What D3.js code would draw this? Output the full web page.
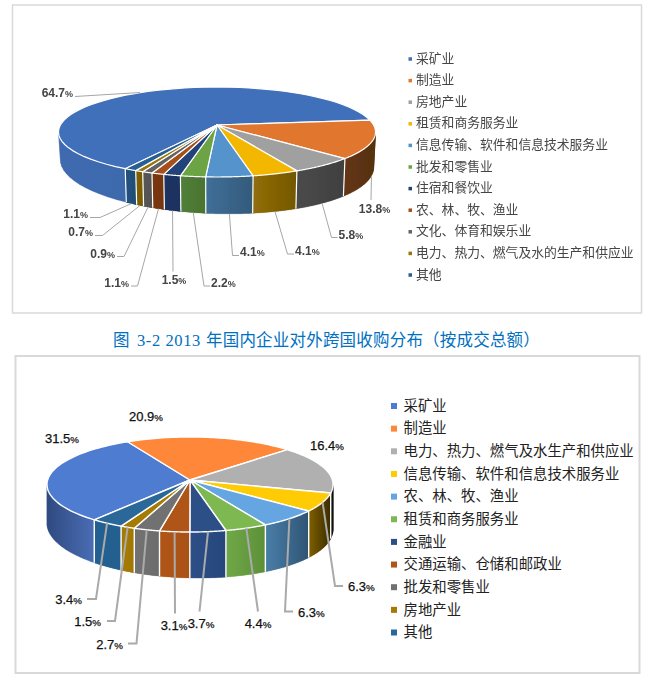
<!DOCTYPE html>
<html><head><meta charset="utf-8">
<script src="https://cdn.jsdelivr.net/npm/d3@7"></script>
<style>html,body{margin:0;padding:0;background:#fff}svg{display:block}</style>
</head><body><svg id="c" width="666" height="678"></svg>
<script>
// ---------- data ----------
const topCategories = ["采矿业","制造业","房地产业","租赁和商务服务业","信息传输、软件和信息技术服务业","批发和零售业","住宿和餐饮业","农、林、牧、渔业","文化、体育和娱乐业","电力、热力、燃气及水的生产和供应业","其他"];
const topValues = [64.7,13.8,5.8,4.1,4.1,2.2,1.5,1.1,0.9,0.7,1.1];
const bottomCategories = ["采矿业","制造业","电力、热力、燃气及水生产和供应业","信息传输、软件和信息技术服务业","农、林、牧、渔业","租赁和商务服务业","金融业","交通运输、仓储和邮政业","批发和零售业","房地产业","其他"];
const bottomValues = [31.5,20.9,16.4,6.3,6.3,4.4,3.7,3.1,2.7,1.5,3.4];
const captionCn1 = "图", captionNum = "3-2 2013", captionCn2 = "年国内企业对外跨国收购分布（按成交总额）";

// ---------- styles ----------
const topFace = ["#416fb9","#e1762f","#a0a0a0","#f3b700","#5593cc","#6ca444","#24427a","#a5501a","#636363","#99740a","#255e91"];
const topWall = [["#3f6ab0","#3e69ad"],["#643616","#55300f"],["#4a4a4a","#404040"],["#926e08","#735700"],["#406f98","#335a7b"],["#50803a","#4a732f"],["#1c3462","#1c3260"],["#7c3710","#74340f"],["#585858","#525252"],["#7e5f06","#7a5c05"],["#20507c","#1f4e79"]];
const botFace = ["#4d7cd0","#ff873a","#b0b0b0","#ffcb05","#64a5e2","#7eb851","#2d4f87","#b05518","#717171","#a67b04","#2a6899"];
const botWall = [["#2f4a80","#4a6db5"],["#8a4a20","#8a4a20"],["#1a1a1a","#0a0a0a"],["#806000","#3a2c00"],["#4a7ea8","#2f5575"],["#70a848","#5c9038"],["#2d4f87","#26467c"],["#b05518","#a95216"],["#727272","#6c6c6c"],["#a67b04","#a07604"],["#24608f","#24608f"]];

// leader layouts, one per slice: elbow points, then label x, y, anchor
const topLeaders = [
 {pts:[[75,96.5]],lx:73,ly:93,a:"end",from:[140,92.5]},
 {pts:[[371,200]],lx:374.5,ly:209,a:"middle"},
 {pts:[[331.5,237.5],[337.5,237.5]],lx:338.5,ly:234.5,a:"start"},
 {pts:[[287.5,254],[294,254]],lx:295,ly:251,a:"start"},
 {pts:[[232.5,255.5],[239,255.5]],lx:240,ly:252,a:"start"},
 {pts:[[204,286],[210,286]],lx:211,ly:283,a:"start"},
 {pts:[[173,271.5]],lx:174,ly:279.5,a:"middle"},
 {pts:[[137.5,286],[131,286]],lx:129,ly:283,a:"end"},
 {pts:[[124,256.5],[117,256.5]],lx:115,ly:253.5,a:"end"},
 {pts:[[102.5,235.5],[95,235.5]],lx:93,ly:232,a:"end"},
 {pts:[[100,217.5],[90,217.5]],lx:88,ly:214,a:"end"}
];
const botLeaders = [
 {pts:[],lx:62,ly:438.5,a:"middle"},
 {pts:[],lx:146,ly:416,a:"middle"},
 {pts:[],lx:327,ly:445,a:"middle"},
 {pts:[[335,586],[343,586]],lx:348,ly:586,a:"start"},
 {pts:[[285,611.5],[293,611.5]],lx:298,ly:612,a:"start"},
 {pts:[[258,611.5]],lx:258,ly:623,a:"middle"},
 {pts:[[199.5,611.5]],lx:201,ly:623,a:"middle"},
 {pts:[[175,613.5]],lx:174,ly:625,a:"middle"},
 {pts:[[136.5,643.5],[128,643.5]],lx:123,ly:644.5,a:"end"},
 {pts:[[115,621],[107,621]],lx:101,ly:621,a:"end"},
 {pts:[[96,599],[87,599]],lx:82,ly:599,a:"end"}
];

const svg = d3.select("#c");
const defs = svg.append("defs");
defs.append("filter").attr("id","soft").attr("x","-5%").attr("y","-5%").attr("width","110%").attr("height","110%")
  .append("feGaussianBlur").attr("stdDeviation",0.4);

// panels
svg.append("rect").attr("x",12.5).attr("y",5).attr("width",629).attr("height",308).attr("fill","#fff").attr("stroke","#d9d9d9").attr("stroke-width",1.5);
svg.append("rect").attr("x",15.5).attr("y",356).attr("width",624).attr("height",317).attr("fill","#fff").attr("stroke","#d9d9d9").attr("stroke-width",2);

// caption
const cap = svg.append("text").attr("y",346).attr("fill","#0070c0").attr("font-size",16.5).attr("font-family","'Noto Sans CJK SC'").attr("font-weight",400);
cap.append("tspan").attr("x",113).text(captionCn1);
cap.append("tspan").attr("x",137).attr("font-family","'Liberation Serif'").attr("letter-spacing",0.6).text(captionNum);
cap.append("tspan").attr("x",206).attr("letter-spacing",0.2).text(captionCn2);

function drawPie(id, g, cfg){
  const arcs = d3.pie().sort(null).startAngle(cfg.start).endAngle(cfg.start+2*Math.PI)(cfg.values);
  const proj = (phi,h)=>{
    const u=Math.sin(phi), v=-Math.cos(phi), w=1-cfg.k*v;
    return [cfg.cx+cfg.a*u/w*(1-cfg.narrow*h), cfg.cy+(cfg.b*v+cfg.D*(1+cfg.skew*u)*h)/w];
  };
  const line=d3.line();
  const N=60;
  const steps=(a0,a1)=>d3.range(0,N+1).map(i=>a0+(a1-a0)*i/N);
  const sample=(a0,a1,h)=>steps(a0,a1).map(p=>proj(p,h));
  const quad=(p0,p1)=>[proj(p0,0),proj(p1,0),proj(p1,1),proj(p0,1)];
  const frontSign=Math.sign(d3.polygonArea(quad(Math.PI,Math.PI+0.05)));
  const isFront=(p0,p1)=>Math.sign(d3.polygonArea(quad(p0,p1)))===frontSign;
  // walls: only the quads that face the viewer, so the silhouette stays a true extrusion
  arcs.forEach((d,i)=>{
    const ph=steps(d.startAngle,d.endAngle);
    const visible=d3.pairs(ph).filter(([p0,p1])=>isFront(p0,p1));
    if(!visible.length) return;
    const xs=visible.flatMap(([p0,p1])=>[proj(p0,0)[0],proj(p1,0)[0]]);
    const gid=id+"w"+i;
    const lg=defs.append("linearGradient").attr("id",gid).attr("gradientUnits","userSpaceOnUse")
      .attr("x1",d3.min(xs)).attr("x2",d3.max(xs)).attr("y1",0).attr("y2",0);
    lg.append("stop").attr("offset",0).attr("stop-color",cfg.wall[i][0]);
    lg.append("stop").attr("offset",1).attr("stop-color",cfg.wall[i][1]);
    g.append("path").attr("d",visible.map(([p0,p1])=>line(quad(p0,p1))+"Z").join(""))
      .attr("fill","url(#"+gid+")").attr("stroke","url(#"+gid+")").attr("stroke-width",0.3);
  });
  // white rulings between neighbouring walls
  arcs.forEach(d=>{
    if(isFront(d.startAngle,d.startAngle+0.02))
      g.append("path").attr("d",line([proj(d.startAngle,0),proj(d.startAngle,1)])).attr("stroke","#fff").attr("stroke-width",cfg.sw).attr("fill","none");
  });
  // top face
  arcs.forEach((d,i)=>{
    const poly=[[cfg.cx,cfg.cy]].concat(sample(d.startAngle,d.endAngle,0));
    g.append("path").attr("d",line(poly)+"Z").attr("fill",cfg.face[i]).attr("stroke","#fff").attr("stroke-width",cfg.sw).attr("stroke-linejoin","round");
  });
  // leaders + labels
  arcs.forEach((d,i)=>{
    const L=cfg.leaders[i], mid=(d.startAngle+d.endAngle)/2;
    if(L.pts.length){
      const s=L.from||proj(mid,cfg.leaderH);
      g.append("path").attr("d",line([s].concat(L.pts))).attr("fill","none").attr("stroke",cfg.leaderColor).attr("stroke-width",cfg.leaderW);
    }
    const t=g.append("text").attr("x",L.lx).attr("y",L.ly).attr("dy","0.36em").attr("text-anchor",L.a)
      .attr("font-family","'Liberation Sans'").attr("font-size",cfg.labelSize).attr("font-weight",cfg.labelWeight)
      .attr("fill",cfg.labelColor).attr("stroke",cfg.labelColor).attr("stroke-width",cfg.labelStroke);
    t.append("tspan").text(d3.format(".1f")(d.data));
    t.append("tspan").attr("font-size",cfg.labelSize*0.75).text("%");
  });
  // legend
  const ly=d3.scalePoint().domain(cfg.cats).range(cfg.legendY);
  cfg.cats.forEach((c,i)=>{
    g.append("rect").attr("x",cfg.mx).attr("y",ly(c)-cfg.ms/2).attr("width",cfg.ms).attr("height",cfg.ms).attr("fill",cfg.face[i]);
    g.append("text").attr("x",cfg.tx).attr("y",ly(c)).attr("dy",cfg.legendDy).attr("fill",cfg.legendColor)
      .attr("font-family","'Noto Sans CJK SC'").attr("font-size",cfg.legendSize).text(c);
  });
}
const rad=deg=>deg*Math.PI/180;
drawPie("t",svg.append("g").attr("filter","url(#soft)"),{
  values:topValues,cats:topCategories,face:topFace,wall:topWall,leaders:topLeaders,
  start:rad(210.5),cx:217,cy:125,a:156.6,b:43.9,k:0.1556,D:31,skew:0.12,narrow:0.012,sw:1.2,leaderH:1,
  leaderColor:"#a6a6a6",leaderW:1,labelSize:12,labelWeight:"bold",labelColor:"#444",labelStroke:0,
  legendY:[59,275],mx:408.5,ms:3.5,tx:416,legendColor:"#444",legendSize:12.8,legendDy:"0.28em"
});
drawPie("b",svg.append("g"),{
  values:bottomValues,cats:bottomCategories,face:botFace,wall:botWall,leaders:botLeaders,
  start:rad(218.5),cx:190,cy:480,a:142.4,b:47.1,k:0.0947,D:41.6,skew:0.07,narrow:0,sw:1.4,leaderH:0,
  leaderColor:"#aaaaaa",leaderW:2,labelSize:13,labelWeight:"normal",labelColor:"#111",labelStroke:0.25,
  legendY:[406,632.5],mx:391,ms:6,tx:403.5,legendColor:"#222",legendSize:14.4,legendDy:"0.33em"
});
</script></body></html>
